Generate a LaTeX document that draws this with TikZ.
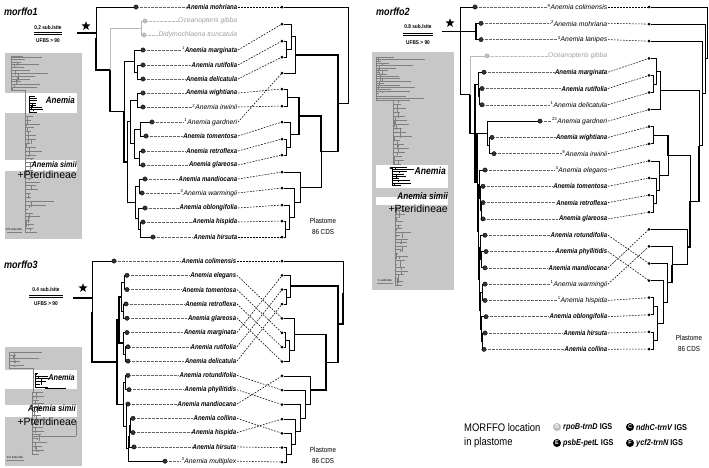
\documentclass[tikz,border=0pt]{standalone}
\usepackage{fontspec}
\setmainfont{Liberation Sans}
\newfontfamily\nrw[FakeStretch=0.86]{Liberation Sans}
\usetikzlibrary{calc,shapes.geometric}
\NewDocumentCommand\jn{O{}O{}mmmm}{%
  \path let \p1=(#5),\p2=(#6) in coordinate (#3) at (#4pt,{(\y1+\y2)/2});
  \draw[br,#1] (#5) -| (#3);
  \draw[br,#2] (#6) -| (#3);}
\newcommand\sps[1]{\raisebox{2.7pt}{\fontsize{4.3}{4}\selectfont\mdseries\upshape #1}\hspace{0.5pt}}
\newcommand\minitree[7]{%
  \pgfmathsetseed{#6}%
  \draw[#7] (#1,#2) -- (#1,#2+#3);
  \foreach \i in {0,...,#4}{%
    \pgfmathsetmacro\yy{#2+\i*#3/#4}%
    \pgfmathsetmacro\xa{#1+rnd*7}%
    \pgfmathsetmacro\xb{\xa+1.5+rnd*rnd*#5}%
    \pgfmathsetmacro\yb{min(\yy+rnd*2.5*#3/#4,#2+#3)}%
    \draw[#7] (#1,\yy) -- (\xb,\yy);
    \draw[#7] (\xa,\yy) -- (\xa,\yb);
  }}
\begin{document}
\begin{tikzpicture}[x=1pt,y=-1pt,
  br/.style={line width=0.75pt},
  thk/.style={line width=1.5pt},
  gbr/.style={draw=gray!55},
  mini/.style={line width=0.3pt,draw=black!50},
  minib/.style={line width=0.45pt,draw=black},
  mld/.style={circle,fill=black!80,draw=black,line width=0.3pt,inner sep=0pt,minimum size=4.4pt},
  gld/.style={circle,fill=gray!50,draw=gray!65,line width=0.3pt,inner sep=0pt,minimum size=4.4pt},
  rd/.style={circle,fill=black,inner sep=0pt,minimum size=3pt},
  lb/.style={anchor=east,inner sep=0.6pt,font=\nrw\fontsize{7}{8}\selectfont\bfseries\itshape},
  ln/.style={anchor=east,inner sep=0.6pt,font=\fontsize{6.8}{8}\selectfont\itshape},
  lg/.style={ln,text=gray!75},
  ds/.style={line width=0.55pt,dash pattern=on 1.7pt off 1.3pt},
  dt/.style={line width=0.45pt,draw=black!60,dash pattern=on 0.45pt off 0.9pt},
  gdt/.style={dt,draw=gray!55},
  ttl/.style={anchor=west,inner sep=0pt,font=\nrw\fontsize{10.5}{12}\selectfont\bfseries\itshape},
  scl/.style={inner sep=0pt,font=\nrw\fontsize{5.5}{6}\selectfont\bfseries},
  pls/.style={inner sep=0pt,align=center,font=\nrw\fontsize{7.3}{11}\selectfont},
  stt/.style={star,star points=5,star point ratio=2.4,fill=black,inner sep=0pt,minimum size=9.5pt},
  igray/.style={fill=black!22},
  anm/.style={anchor=east,inner sep=0pt,font=\nrw\fontsize{#1}{9}\selectfont\bfseries\itshape},
  pter/.style={anchor=east,inner sep=0pt,font=\fontsize{10.5}{11}\selectfont},
  tinytxt/.style={inner sep=0pt,font=\fontsize{3}{3}\selectfont},
  lgc/.style={circle,inner sep=0pt,minimum size=8pt,fill=black,text=white,font=\fontsize{5.5}{6}\selectfont\bfseries},
  lgt/.style={anchor=west,inner sep=0pt,font=\nrw\fontsize{8.5}{9}\selectfont\bfseries},
  lgh/.style={anchor=west,inner sep=0pt,font=\nrw\fontsize{11}{12}\selectfont}]
\useasboundingbox (0,0) rectangle (709,467);
\fill[white] (0,0) rectangle (709,467);

% ================= insets =================
% inset 1
\fill[igray] (5,53) rectangle (82,239);
\fill[white] (5,93) rectangle (77,113);
\fill[white] (5,160) rectangle (77,171);
\minitree{11}{56}{34}{12}{32}{3}{mini}
\draw[mini] (11,57) -- (42,57);
\draw[mini] (11,90) -- (25,90) -- (25,116);
\minitree{29}{96}{16}{7}{14}{5}{minib}
\minitree{25}{116}{116}{30}{26}{9}{mini}
\node[anm=9.3] (ia1) at (75,100) {Anemia};
\node[anm=8.5] (is1) at (77,164) {Anemia simii};
\node[pter] (ip1) at (77,175) {+Pteridineae};
\draw[mini] (7,232) -- (22,232);
\node[tinytxt] (isc1) at (14,229) {0.5 sub./site};

% inset 3
\fill[igray] (5,347) rectangle (82,466);
\fill[white] (5,370) rectangle (77,389);
\fill[white] (5,405) rectangle (77,417);
\minitree{9}{352}{16}{5}{30}{4}{mini}
\draw[mini] (9,352) -- (42,352);
\draw[mini] (9,368) -- (33,368) -- (33,392);
\minitree{35}{373}{14}{5}{18}{6}{minib}
\draw[minib] (45,388) -- (66,388);
\minitree{32}{392}{62}{16}{22}{8}{mini}
\draw[mini] (32,436) -- (76,436) (76,421) -- (76,436);
\node[anm=8.5] (ia3) at (75,377) {Anemia};
\node[anm=9] (is3) at (76,408) {Anemia simii};
\node[pter] (ip3) at (77,422) {+Pteridineae};
\draw[mini] (6,460) -- (24,460);
\node[tinytxt] (isc3) at (15,457) {0.4 sub./site};

% inset 2
\fill[igray] (372,52) rectangle (454,290);
\fill[white] (376,165) rectangle (448,188);
\fill[white] (376,197) rectangle (448,205);
\minitree{376}{57}{43}{20}{55}{12}{mini}
\draw[mini] (376,100) -- (393,100);
\minitree{393}{100}{64}{16}{22}{14}{mini}
\minitree{392}{167}{18}{8}{25}{15}{minib}
\minitree{395}{207}{78}{22}{15}{16}{mini}
\fill (391,168) circle (1.3pt);
\node[anm=10] (ia2) at (446,171) {Anemia};
\node[anm=9.5] (is2) at (448,196) {Anemia simii};
\node[pter] (ip2) at (448,209) {+Pteridineae};
\draw[mini] (377,283) -- (393,283);
\node[tinytxt] (isc2) at (385,280) {1 sub./site};

% ================= morffo1 =================
\node[ttl] (t1) at (4,12) {morffo1};
\node[scl] (s1a) at (48,28) {0.2 sub./site};
\draw[line width=0.5pt] (34,32) -- (62,32);
\draw[line width=1.4pt] (34,34.3) -- (62,34.3);
\node[scl] (s1b) at (48,40.5) {UFBS > 90};
\node[stt] (st1) at (86,26) {};

\node[mld] (m1a) at (136,7) {};
\node[gld] (m1b) at (145,21) {};
\node[gld] (m1c) at (144,35) {};
\node[mld] (m1d) at (143,50) {};
\node[mld] (m1e) at (143,65) {};
\node[mld] (m1f) at (143,79) {};
\node[mld] (m1g) at (143,93) {};
\node[mld] (m1h) at (143,107) {};
\node[mld] (m1i) at (152,122) {};
\node[mld] (m1j) at (146,136) {};
\node[mld] (m1k) at (143,151) {};
\node[mld] (m1l) at (143,165) {};
\node[mld] (m1m) at (145,179) {};
\node[mld] (m1n) at (142,193) {};
\node[mld] (m1o) at (145,208) {};
\node[mld] (m1p) at (143,222) {};
\node[mld] (m1q) at (153,237) {};

\node[lb] (L1a) at (238,7) {Anemia mohriana};
\node[lg] (L1b) at (238,21) {Oceanopteris gibba};
\node[lg] (L1c) at (238,35) {Didymochlaena truncatula};
\node[lb] (L1d) at (238,50) {\sps{1}Anemia marginata};
\node[lb] (L1e) at (238,65) {Anemia rutifolia};
\node[lb] (L1f) at (238,79) {Anemia delicatula};
\node[lb] (L1g) at (238,93) {Anemia wightiana};
\node[ln] (L1h) at (238,107) {\sps{2}Anemia irwinii};
\node[ln] (L1i) at (238,122) {\sps{1}Anemia gardneri};
\node[lb] (L1j) at (238,136) {Anemia tomentosa};
\node[lb] (L1k) at (238,151) {Anemia retroflexa};
\node[lb] (L1l) at (238,165) {Anemia glareosa};
\node[lb] (L1m) at (238,179) {Anemia mandiocana};
\node[ln] (L1n) at (238,193) {\sps{2}Anemia warmingii};
\node[lb] (L1o) at (238,208) {Anemia oblongifolia};
\node[lb] (L1p) at (238,222) {Anemia hispida};
\node[lb] (L1q) at (238,237) {Anemia hirsuta};

\foreach \t in {a,d,e,f,g,h,i,j,k,l,m,n,o,p,q} \draw[dt] (m1\t) -- (L1\t.west);
\foreach \t in {b,c} \draw[gdt] (m1\t) -- (L1\t.west);

\jn{a1}{137}{m1e}{m1f}
\jn{a2}{134}{m1d}{a1}
\jn{a3}{137}{m1g}{m1h}
\jn{a4}{140}{m1i}{m1j}
\jn{a5}{139}{m1k}{m1l}
\jn{a6}{134}{a4}{a5}
\jn{a7}{130}{a3}{a6}
\jn{a8}{139}{m1m}{m1n}
\jn{a9}{140}{m1p}{m1q}
\jn{a10}{138}{m1o}{a9}
\jn{a11}{135}{a8}{a10}
\jn{a12}{127}{a7}{a11}
\jn[][thk]{a13}{124}{a2}{a12}
\jn[gbr][gbr]{og1}{141}{m1b}{m1c}
\jn[gbr][thk]{a14}{110}{og1}{a13}
\jn[][thk]{a15}{96}{m1a}{a14}
\coordinate (rt1) at (77,33);
\draw[thk] (rt1) -- (rt1 -| a15);

\foreach \t/\y in {a/7,b/24,c/41,d/57,e/73,f/89,g/106,h/122,i/139,j/155,k/172,l/188,m/205,n/221,o/237}
  \node[rd] (r1\t) at (282,\y) {};
\foreach \a/\b in {a/a,d/b,e/c,f/d,i/e,g/f,h/g,j/h,k/i,l/j,m/k,n/l,o/m,p/n,q/o}
  \draw[ds] (L1\a.east) -- (r1\b);

\jn{b1}{286}{r1c}{r1d}
\jn{b2}{291}{r1b}{b1}
\jn{b3}{295}{b2}{r1e}
\jn{b4}{287}{r1f}{r1g}
\jn{b5}{286}{r1i}{r1j}
\jn{b6}{290}{r1h}{b5}
\jn[thk][thk]{b7}{299}{b4}{b6}
\jn{b8}{285}{r1n}{r1o}
\jn{b9}{289}{r1m}{b8}
\jn{b10}{294}{r1l}{b9}
\jn{b11}{300}{r1k}{b10}
\jn[thk][]{b12}{321}{b7}{b11}
\jn[thk][thk]{b13}{338}{b3}{b12}
\jn{b14}{348}{r1a}{b13}
\node[pls] (p1) at (323,226) {Plastome\\86 CDS};

% ================= morffo3 =================
\node[ttl] (t3) at (4,265) {morffo3};
\node[scl] (s3a) at (46,290) {0.4 sub./site};
\draw[line width=0.5pt] (29,295) -- (63,295);
\draw[line width=1.4pt] (29,297.3) -- (63,297.3);
\node[scl] (s3b) at (46,304) {UFBS > 90};
\node[stt] (st3) at (83,288) {};

\node[mld] (m3a) at (114,261) {};
\node[mld] (m3b) at (127,275.3) {};
\node[mld] (m3c) at (127,289.6) {};
\node[mld] (m3d) at (126,303.9) {};
\node[mld] (m3e) at (127,318.2) {};
\node[mld] (m3f) at (127,332.5) {};
\node[mld] (m3g) at (128,346.8) {};
\node[mld] (m3h) at (128,361.1) {};
\node[mld] (m3i) at (128,375.4) {};
\node[mld] (m3j) at (129,389.7) {};
\node[mld] (m3k) at (128,404) {};
\node[mld] (m3l) at (133,418.3) {};
\node[mld] (m3m) at (133,432.6) {};
\node[mld] (m3n) at (134,446.9) {};
\node[mld] (m3o) at (165,461.2) {};

\node[lb] (L3a) at (237,261) {Anemia colimensis};
\node[lb] (L3b) at (237,275.3) {Anemia elegans};
\node[lb] (L3c) at (237,289.6) {Anemia tomentosa};
\node[lb] (L3d) at (237,303.9) {Anemia retroflexa};
\node[lb] (L3e) at (237,318.2) {Anemia glareosa};
\node[lb] (L3f) at (237,332.5) {Anemia marginata};
\node[lb] (L3g) at (237,346.8) {Anemia rutifolia};
\node[lb] (L3h) at (237,361.1) {Anemia delicatula};
\node[lb] (L3i) at (237,375.4) {Anemia rotundifolia};
\node[lb] (L3j) at (237,389.7) {Anemia phyllitidis};
\node[lb] (L3k) at (237,404) {Anemia mandiocana};
\node[lb] (L3l) at (237,418.3) {Anemia collina};
\node[lb] (L3m) at (237,432.6) {Anemia hispida};
\node[lb] (L3n) at (237,446.9) {Anemia hirsuta};
\node[ln] (L3o) at (237,461.2) {\sps{3}Anemia multiplex};

\foreach \t in {a,b,c,d,e,f,g,h,i,j,k,l,m,n,o} \draw[dt] (m3\t) -- (L3\t.west);

\jn{c1}{124}{m3b}{m3c}
\jn{c2}{123}{m3d}{m3e}
\jn{c3}{121}{c1}{c2}
\jn{c4}{125}{m3g}{m3h}
\jn{c5}{123}{m3f}{c4}
\jn[thk][thk]{c6}{119}{c3}{c5}
\jn{c7}{125}{m3i}{m3j}
\jn{c8}{130}{m3l}{m3m}
\jn{c9}{129}{c8}{m3n}
\jn{c10}{128}{c9}{m3o}
\jn{c11}{126}{m3k}{c10}
\jn{c12}{123}{c7}{c11}
\jn[thk][thk]{c13}{117}{c6}{c12}
\jn[][thk]{c14}{92}{m3a}{c13}
\coordinate (rt3) at (73,298);
\draw[thk] (rt3) -- (rt3 -| c14);

\foreach \t/\y in {a/261,b/275.4,c/289.7,d/304.1,e/318.4,f/332.8,g/347.2,h/361.5,i/375.9,j/390.2,k/404.6,l/419,m/433.3,n/447.7,o/462}
  \node[rd] (r3\t) at (282,\y) {};
\foreach \a/\b in {a/a,b/e,c/f,d/g,e/h,f/b,g/c,h/d,i/j,j/k,k/i,l/m,m/l,n/n,o/o}
  \draw[ds] (L3\a.east) -- (r3\b);

\jn{d1}{286}{r3c}{r3d}
\jn{d2}{290}{r3b}{d1}
\jn{d3}{285}{r3f}{r3g}
\jn{d4}{289}{d3}{r3h}
\jn{d5}{294}{r3e}{d4}
\jn{d6}{286}{r3n}{r3o}
\jn{d7}{291}{r3m}{d6}
\jn{d8}{295}{r3l}{d7}
\jn{d9}{300}{r3k}{d8}
\jn{d10}{305}{r3j}{d9}
\jn{d11}{310}{r3i}{d10}
\jn[thk][thk]{d12}{326}{d5}{d11}
\jn[thk][thk]{d13}{338}{d2}{d12}
\jn[][thk]{d14}{343}{r3a}{d13}
\node[pls] (p3) at (323,455) {Plastome\\86 CDS};

% ================= morffo2 =================
\node[ttl] (t2) at (376,12) {morffo2};
\node[scl] (s2a) at (418,27) {0.8 sub./site};
\draw[line width=0.5pt] (403,33) -- (433,33);
\draw[line width=1.4pt] (403,35.3) -- (433,35.3);
\node[scl] (s2b) at (418,42.5) {UFBS > 90};
\node[stt] (st2) at (450,23) {};

\node[mld] (m2a) at (475,7) {};
\node[mld] (m2b) at (481,23.3) {};
\node[mld] (m2c) at (481,39.6) {};
\node[gld] (m2d) at (487,55.9) {};
\node[mld] (m2e) at (484,72.2) {};
\node[mld] (m2f) at (482,88.5) {};
\node[mld] (m2g) at (482,104.8) {};
\node[mld] (m2h) at (540,121.1) {};
\node[mld] (m2i) at (492,137.4) {};
\node[mld] (m2j) at (494,153.7) {};
\node[mld] (m2k) at (485,170) {};
\node[mld] (m2l) at (483,186.3) {};
\node[mld] (m2m) at (483,202.6) {};
\node[mld] (m2n) at (483,218.9) {};
\node[mld] (m2o) at (485,235.2) {};
\node[mld] (m2p) at (486,251.5) {};
\node[mld] (m2q) at (485,267.8) {};
\node[mld] (m2r) at (485,284.1) {};
\node[mld] (m2s) at (485,300.4) {};
\node[mld] (m2t) at (486,316.7) {};
\node[mld] (m2u) at (485,333) {};
\node[mld] (m2v) at (484,349.3) {};

\node[ln] (L2a) at (608,7) {\sps{9}Anemia colimensis};
\node[ln] (L2b) at (608,23.3) {\sps{2}Anemia mohriana};
\node[ln] (L2c) at (608,39.6) {\sps{3}Anemia lanipes};
\node[lg] (L2d) at (608,55.9) {Oceanopteris gibba};
\node[lb] (L2e) at (608,72.2) {Anemia marginata};
\node[lb] (L2f) at (608,88.5) {Anemia rutifolia};
\node[ln] (L2g) at (608,104.8) {\sps{1}Anemia delicatula};
\node[ln] (L2h) at (608,121.1) {\sps{23}Anemia gardneri};
\node[lb] (L2i) at (608,137.4) {Anemia wightiana};
\node[ln] (L2j) at (608,153.7) {\sps{9}Anemia irwinii};
\node[ln] (L2k) at (608,170) {\sps{3}Anemia elegans};
\node[lb] (L2l) at (608,186.3) {Anemia tomentosa};
\node[lb] (L2m) at (608,202.6) {Anemia retroflexa};
\node[lb] (L2n) at (608,218.9) {Anemia glareosa};
\node[lb] (L2o) at (608,235.2) {Anemia rotundifolia};
\node[lb] (L2p) at (608,251.5) {Anemia phyllitidis};
\node[lb] (L2q) at (608,267.8) {Anemia mandiocana};
\node[ln] (L2r) at (608,284.1) {\sps{1}Anemia warmingii};
\node[ln] (L2s) at (608,300.4) {\sps{1}Anemia hispida};
\node[lb] (L2t) at (608,316.7) {Anemia oblongifolia};
\node[lb] (L2u) at (608,333) {Anemia hirsuta};
\node[lb] (L2v) at (608,349.3) {Anemia collina};

\foreach \t in {a,b,c,e,f,g,h,i,j,k,l,m,n,o,p,q,r,s,t,u,v} \draw[dt] (m2\t) -- (L2\t.west);
\draw[gdt] (m2d) -- (L2d.west);

\jn[thk][thk]{e1}{476}{m2b}{m2c}
\jn{e2}{479}{m2f}{m2g}
\jn{e3}{478}{m2e}{e2}
\jn{e4}{489}{m2i}{m2j}
\jn{e5}{487}{m2h}{e4}
\jn{f1}{482}{m2u}{m2v}
\jn{f2}{481}{m2t}{f1}
\jn{f3}{482}{m2r}{m2s}
\jn{f4}{480}{f3}{f2}
\jn{f5}{481}{m2p}{m2q}
\jn{f6}{480}{m2o}{f5}
\jn{f7}{479}{f6}{f4}
\jn{f8}{481}{m2m}{m2n}
\jn{f9}{480}{m2l}{f8}
\jn{f10}{479}{m2k}{f9}
\jn{f11}{478}{f10}{f7}
\jn[thk][]{f12}{477}{e5}{f11}
\jn[thk][thk]{f13}{475}{e3}{f12}
\jn[gbr][thk]{g1}{470}{m2d}{f13}
\jn{g2}{460}{m2a}{g1}
\coordinate (rt2) at (442,0);
\draw[thk] (e1) -- (e1 -| rt2);

\foreach \t/\y in {a/7,b/24.1,c/41.2,d/58.3,e/75.4,f/92.5,g/109.6,h/126.7,i/143.8,j/160.9,k/178,l/195.1,m/212.2,n/229.3,o/246.4,p/263.5,q/280.6,r/297.7,s/314.8,t/331.9,u/349}
  \node[rd] (r2\t) at (649,\y) {};
\foreach \a/\b in {a/a,b/b,c/c,e/d,f/e,g/f,h/g,i/h,j/i,k/j,l/k,m/l,n/m,o/p,p/q,q/n,r/o,s/r,t/s,u/t,v/u}
  \draw[ds] (L2\a.east) -- (r2\b);

\jn{h1}{653}{r2e}{r2f}
\jn{h2}{656}{r2d}{h1}
\jn{h3}{660}{h2}{r2g}
\jn{h4}{653}{r2h}{r2i}
\jn{h5}{653}{r2l}{r2m}
\jn{h6}{656}{r2k}{h5}
\jn{h7}{659}{r2j}{h6}
\jn[thk][]{h8}{668}{h4}{h7}
\jn{h9}{653}{r2r}{r2s}
\jn{h10}{653}{r2t}{r2u}
\jn{h11}{657}{h9}{h10}
\jn{h12}{663}{r2q}{h11}
\jn{h13}{667}{r2p}{h12}
\jn[][thk]{h14}{672}{r2o}{h13}
\jn{h15}{687}{r2n}{h14}
\jn[][thk]{h16}{690}{h8}{h15}
\jn[][thk]{h17}{699}{h3}{h16}
\jn{h18}{702}{r2c}{h17}
\jn{h19}{705}{r2b}{h18}
\jn{h20}{707.5}{r2a}{h19}
\node[pls] (p2) at (689,343) {Plastome\\86 CDS};

% ================= legend =================
\node[lgh] (lg1) at (464,428) {MORFFO location};
\node[lgh] (lg2) at (464,443) {in plastome};
\node[lgc,fill=gray!55] (cB) at (557,427) {B};
\node[lgt] (tB) at (563,427) {\textit{rpoB-trnD} IGS};
\node[lgc] (cC) at (630,427) {C};
\node[lgt] (tC) at (636,427) {\textit{ndhC-trnV} IGS};
\node[lgc] (cE) at (557,443) {E};
\node[lgt] (tE) at (563,443) {\textit{psbE-petL} IGS};
\node[lgc] (cF) at (630,443) {F};
\node[lgt] (tF) at (636,443) {\textit{ycf2-trnN} IGS};
\end{tikzpicture}
\end{document}
